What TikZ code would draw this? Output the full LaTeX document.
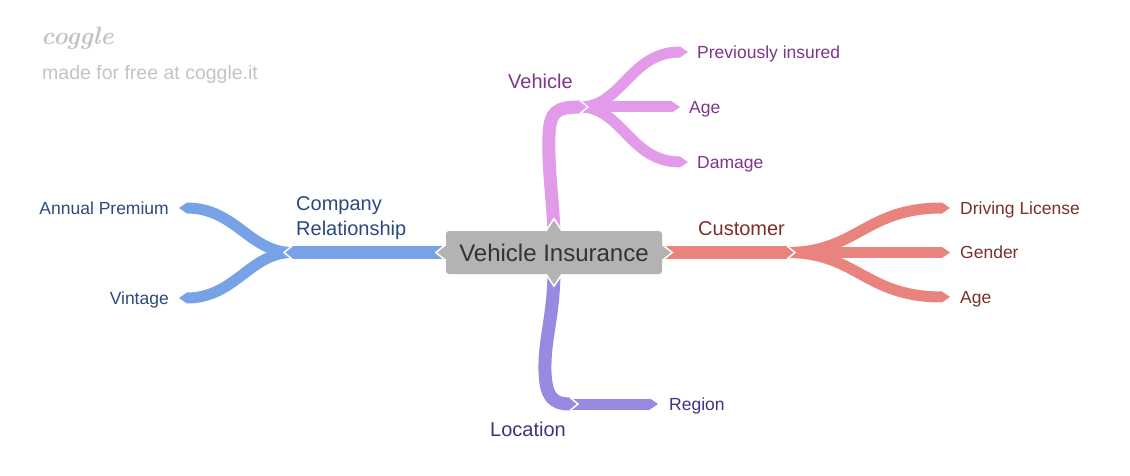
\documentclass[tikz,border=0pt]{standalone}
\usepackage{fontspec}
\setsansfont{Liberation Sans}
\usetikzlibrary{positioning,backgrounds}

\definecolor{boxgray}{HTML}{B3B3B3}
\definecolor{boxtxt}{HTML}{333333}
\definecolor{bluerib}{HTML}{77A2E6}
\definecolor{bluetxt}{HTML}{2C4A7E}
\definecolor{pinkrib}{HTML}{E29BE9}
\definecolor{pinktxt}{HTML}{80358A}
\definecolor{redrib}{HTML}{E8837E}
\definecolor{redtxt}{HTML}{7B302C}
\definecolor{purprib}{HTML}{978AE1}
\definecolor{purptxt}{HTML}{3D357F}
\definecolor{logogray}{HTML}{C4C4C4}

\tikzset{
  topic/.style={font=\sffamily\fontsize{20}{25}\selectfont, inner sep=0pt, anchor=west, align=left},
  leaf/.style={font=\sffamily\fontsize{17.5}{21}\selectfont, inner sep=0pt, text height=12.5pt, text depth=0pt},
  stem/.style={line width=13pt, line cap=butt},
  twig/.style={line width=11pt, line cap=butt},
  notch/.style={white, line width=1.5pt},
}

% arrow ends of the ribbons
\newcommand{\tipR}[3]{\fill[#1] (#2) ++(0,-#3) -- ++(8,#3) -- ++(-8,#3) -- cycle;}
\newcommand{\tipL}[3]{\fill[#1] (#2) ++(0,-#3) -- ++(-8,#3) -- ++(8,#3) -- cycle;}
\newcommand{\notchR}[2]{\draw[notch] (#1) ++(0,-#2) -- ++(8,#2) -- ++(-8,#2);}
\newcommand{\notchL}[2]{\draw[notch] (#1) ++(0,-#2) -- ++(-8,#2) -- ++(8,#2);}

\begin{document}
\begin{tikzpicture}[x=1pt, y=-1pt]
    \useasboundingbox (0,0) rectangle (1130,476);

    % Logo
    \node[anchor=west, inner sep=0pt, text=logogray, font=\rmfamily\bfseries\itshape\fontsize{25}{28}\selectfont] (logo) at (41,38) {coggle};
    \node[anchor=west, inner sep=0pt, text=logogray, font=\sffamily\fontsize{19.5}{23}\selectfont] (madefor) at (42,74) {made for free at coggle.it};

    % Central topic
    \node[fill=boxgray, rounded corners=3pt, minimum width=216pt, minimum height=43pt, text=boxtxt, font=\sffamily\fontsize{24}{28}\selectfont] (vi) at (554,252.5) {Vehicle Insurance};

    % Joints and ends
    \coordinate (cr-j) at (292,252.5);
    \coordinate (ap-e) at (187,208);
    \coordinate (vt-e) at (187,298);
    \coordinate (vh-j) at (580,107);
    \coordinate (pi-e) at (680,52);
    \coordinate (va-e) at (672,107);
    \coordinate (dm-e) at (680,162);
    \coordinate (cu-j) at (787,252.5);
    \coordinate (dl-e) at (942,208);
    \coordinate (gd-e) at (942,252.5);
    \coordinate (ca-e) at (942,297);
    \coordinate (lo-j) at (570,404);
    \coordinate (rg-e) at (650,404);

    \begin{pgfonlayer}{background}
    \fill[white] (0,0) rectangle (1130,476);

    % Company Relationship
    \draw[twig, bluerib] (cr-j) .. controls +(-42,0) and +(48,0) .. (ap-e);
    \draw[twig, bluerib] (cr-j) .. controls +(-42,0) and +(48,0) .. (vt-e);
    \tipL{bluerib}{ap-e}{5.5}
    \tipL{bluerib}{vt-e}{5.5}
    \draw[stem, bluerib] (vi.west) -- (cr-j);
    \tipL{bluerib}{cr-j}{6.5}
    \notchL{cr-j}{6.5}

    % Vehicle
    \draw[twig, pinkrib] (vh-j) .. controls +(42,0) and +(-50,0) .. (pi-e);
    \draw[twig, pinkrib] (vh-j) -- (va-e);
    \draw[twig, pinkrib] (vh-j) .. controls +(42,0) and +(-50,0) .. (dm-e);
    \tipR{pinkrib}{pi-e}{5.5}
    \tipR{pinkrib}{va-e}{5.5}
    \tipR{pinkrib}{dm-e}{5.5}
    \draw[stem, pinkrib] (vi.north) .. controls (552,190) and (548,170) .. (549,135)
        .. controls (550,112) and (556,107) .. (vh-j);
    \tipR{pinkrib}{vh-j}{6.5}
    \notchR{vh-j}{6.5}

    % Customer
    \draw[twig, redrib] (cu-j) .. controls +(70,0) and +(-77,0) .. (dl-e);
    \draw[twig, redrib] (cu-j) -- (gd-e);
    \draw[twig, redrib] (cu-j) .. controls +(70,0) and +(-77,0) .. (ca-e);
    \tipR{redrib}{dl-e}{5.5}
    \tipR{redrib}{gd-e}{5.5}
    \tipR{redrib}{ca-e}{5.5}
    \draw[stem, redrib] (vi.east) -- (cu-j);
    \tipR{redrib}{cu-j}{6.5}
    \notchR{cu-j}{6.5}

    % Location
    \draw[twig, purprib] (lo-j) -- (rg-e);
    \tipR{purprib}{rg-e}{5.5}
    \draw[stem, purprib] (vi.south) .. controls (553,320) and (544,340) .. (545,372)
        .. controls (546,396) and (552,404) .. (lo-j);
    \tipR{purprib}{lo-j}{6.5}
    \notchR{lo-j}{6.5}
    \end{pgfonlayer}

    % Points of the central box
    \fill[boxgray] (vi.north) ++(-8,0) -- ++(8,-12) -- ++(8,12) -- cycle;
    \draw[notch] (vi.north) ++(-8,0) -- ++(8,-12) -- ++(8,12);
    \fill[boxgray] (vi.south) ++(-8,0) -- ++(8,12) -- ++(8,-12) -- cycle;
    \draw[notch] (vi.south) ++(-8,0) -- ++(8,12) -- ++(8,-12);
    \fill[boxgray] (vi.west) ++(0,-8) -- ++(-10,8) -- ++(10,8) -- cycle;
    \draw[notch] (vi.west) ++(0,-8) -- ++(-10,8) -- ++(10,8);
    \fill[boxgray] (vi.east) ++(0,-8) -- ++(10,8) -- ++(-10,8) -- cycle;
    \draw[notch] (vi.east) ++(0,-8) -- ++(10,8) -- ++(-10,8);

    % Topic labels
    \node[topic, anchor=north west, text=bluetxt] (cr) at (296,196) {Company\\Relationship};
    \node[topic, text=pinktxt] (vh) at (508,81) {Vehicle};
    \node[topic, text=redtxt] (cu) at (698,229) {Customer};
    \node[topic, text=purptxt] (lo) at (490,429) {Location};

    % Leaf labels
    \node[leaf, text=bluetxt, left=18pt of ap-e] (ap) {Annual Premium};
    \node[leaf, text=bluetxt, left=18pt of vt-e] (vt) {Vintage};
    \node[leaf, text=pinktxt, right=17pt of pi-e] (pi) {Previously insured};
    \node[leaf, text=pinktxt, right=17pt of va-e] (va) {Age};
    \node[leaf, text=pinktxt, right=17pt of dm-e] (dm) {Damage};
    \node[leaf, text=redtxt, right=18pt of dl-e] (dl) {Driving License};
    \node[leaf, text=redtxt, right=18pt of gd-e] (gd) {Gender};
    \node[leaf, text=redtxt, right=18pt of ca-e] (ca) {Age};
    \node[leaf, text=purptxt, right=19pt of rg-e] (rg) {Region};
\end{tikzpicture}
\end{document}
